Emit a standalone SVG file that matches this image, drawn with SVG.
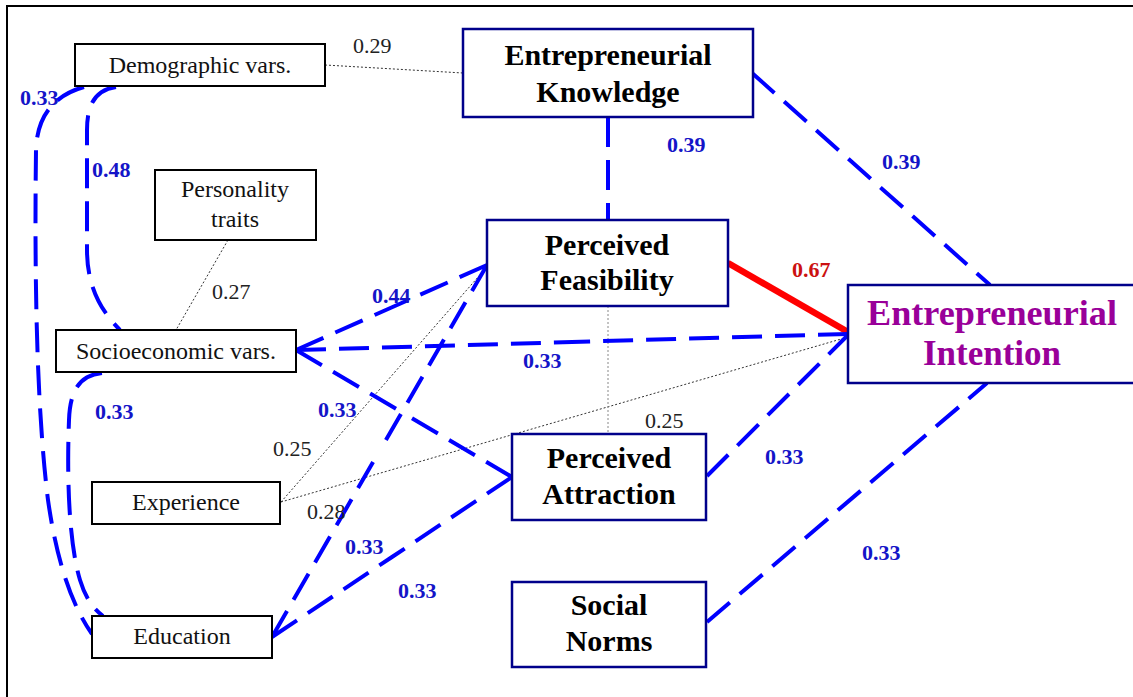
<svg xmlns="http://www.w3.org/2000/svg" width="1133" height="697" viewBox="0 0 1133 697">
<style>
.bg{fill:#ffffff}
.frame{stroke:#000;stroke-width:2;fill:none}
.box{fill:#fff;stroke:#000;stroke-width:2}
.cbox{fill:#fff;stroke:#00008b;stroke-width:2.5}
.dash{fill:none;stroke:#0000ff;stroke-width:4;stroke-dasharray:30 13}
.red{fill:none;stroke:#ff0000;stroke-width:6.5}
.dot{fill:none;stroke:#333;stroke-width:1;stroke-dasharray:2 2}
.dotg{fill:none;stroke:#888;stroke-width:1;stroke-dasharray:2 2}
</style>
<rect class="bg" x="0" y="0" width="1133" height="697"/>
<path class="frame" d="M 7,697 L 7,6 L 1133,6"/>

<g id="connectors">
  <path class="dot" d="M 325,65 L 463,73"/>
  <path class="dot" d="M 228,240 L 176,330"/>
  <path class="dot" d="M 281,502 L 486,268"/>
  <path class="dot" d="M 281,502 L 848,337"/>
  <path class="dotg" d="M 608,306 L 608,434"/>
  <path class="dash" d="M 608,117 L 608,220"/>
  <path class="dash" d="M 752,73 L 990,285"/>
  <path class="red" d="M 728,263 L 848,332"/>
  <path class="dash" d="M 296,350 L 572,342 M 848,334 L 572,342"/>
  <path class="dash" d="M 296,350 L 391.5,307.5 M 487,265 L 391.5,307.5"/>
  <path class="dash" d="M 296,350 L 404,413.5 M 512,477 L 404,413.5"/>
  <path class="dash" d="M 272,637 L 379.5,451 M 487,265 L 379.5,451"/>
  <path class="dash" d="M 272,637 L 392,557 M 512,477 L 392,557"/>
  <path class="dash" d="M 707,476 L 848,335"/>
  <path class="dash" d="M 707,622 L 987,383"/>
  <path class="dash" d="M 84,87 C 55,95 37,115 36,150 C 34,300 38,420 48,500 C 58,570 75,610 92,634"/>
  <path class="dash" d="M 116,87 C 95,90 87,105 87,130 L 87,250 C 87,285 100,310 120,330"/>
  <path class="dash" d="M 102,373 C 80,375 70,390 69,420 C 67,470 68,540 80,580 C 86,600 95,610 103,616"/>
  <g font-family="Liberation Serif" font-size="22" fill="#222">
    <text x="353" y="53">0.29</text>
    <text x="212" y="299">0.27</text>
    <text x="273" y="456">0.25</text>
    <text x="307" y="519">0.28</text>
    <text x="645" y="428">0.25</text>
  </g>
  <g font-family="Liberation Serif" font-size="22" font-weight="bold" fill="#1414c8">
    <text x="20" y="105">0.33</text>
    <text x="92" y="177">0.48</text>
    <text x="667" y="152">0.39</text>
    <text x="882" y="169">0.39</text>
    <text x="792" y="277" fill="#cc1111">0.67</text>
    <text x="372" y="303">0.44</text>
    <text x="523" y="368">0.33</text>
    <text x="95" y="419">0.33</text>
    <text x="318" y="417">0.33</text>
    <text x="345" y="554">0.33</text>
    <text x="398" y="598">0.33</text>
    <text x="765" y="464">0.33</text>
    <text x="862" y="560">0.33</text>
  </g>
</g>

<g font-family="Liberation Serif" font-size="24" fill="#111" text-anchor="middle">
<g id="demographic">
  <rect class="box" x="75" y="44" width="250" height="42"/>
  <text x="200" y="73">Demographic vars.</text>
</g>
<g id="personality">
  <rect class="box" x="155" y="170" width="161" height="70"/>
  <text x="235" y="197">Personality</text>
  <text x="235" y="227">traits</text>
</g>
<g id="socioeconomic">
  <rect class="box" x="56" y="330" width="240" height="42"/>
  <text x="176" y="359">Socioeconomic vars.</text>
</g>
<g id="experience">
  <rect class="box" x="92" y="482" width="188" height="42"/>
  <text x="186" y="510">Experience</text>
</g>
<g id="education">
  <rect class="box" x="92" y="616" width="180" height="42"/>
  <text x="182" y="644">Education</text>
</g>
</g>
<g font-family="Liberation Serif" font-size="30" font-weight="bold" fill="#000" text-anchor="middle">
<g id="knowledge">
  <rect class="cbox" x="463" y="29" width="290" height="88"/>
  <text x="608" y="65">Entrepreneurial</text>
  <text x="608" y="102">Knowledge</text>
</g>
<g id="feasibility">
  <rect class="cbox" x="487" y="220" width="241" height="86"/>
  <text x="607" y="255">Perceived</text>
  <text x="607" y="290">Feasibility</text>
</g>
<g id="attraction">
  <rect class="cbox" x="512" y="434" width="194" height="86"/>
  <text x="609" y="468">Perceived</text>
  <text x="609" y="504">Attraction</text>
</g>
<g id="norms">
  <rect class="cbox" x="512" y="582" width="194" height="85"/>
  <text x="609" y="615">Social</text>
  <text x="609" y="651">Norms</text>
</g>
<g id="intention">
  <rect class="cbox" x="848" y="285" width="288" height="98"/>
  <text x="992" y="325" font-size="35" fill="#990099" textLength="250" lengthAdjust="spacingAndGlyphs">Entrepreneurial</text>
  <text x="992" y="365" font-size="35" fill="#990099">Intention</text>
</g>
</g>
</svg>
